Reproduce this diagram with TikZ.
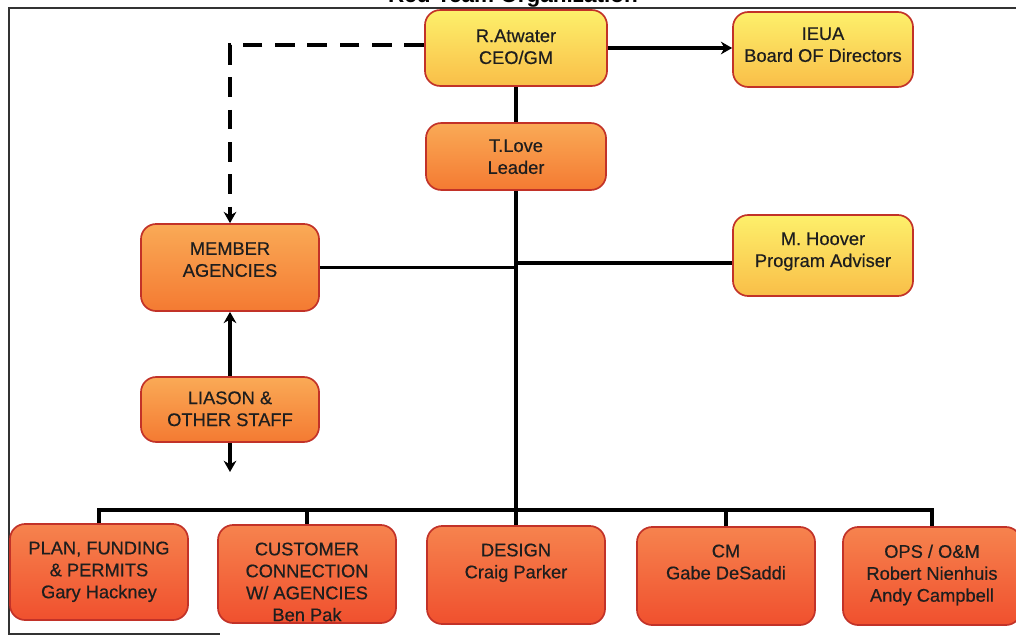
\documentclass[tikz,border=0pt]{standalone}
\usepackage{fontspec}
\setmainfont{Liberation Sans}
\newfontfamily\boxfam{Liberation Sans}[FakeBold=0.5]
\usepackage{xcolor}
\usetikzlibrary{arrows.meta,positioning}

\definecolor{boxred}{HTML}{C23228}
\definecolor{chiefT}{HTML}{FDF06B}
\definecolor{chiefB}{HTML}{F9BE48}
\definecolor{staffT}{HTML}{FAAA56}
\definecolor{staffB}{HTML}{F47A32}
\definecolor{unitT}{HTML}{F6834E}
\definecolor{unitB}{HTML}{F0502E}
\definecolor{inkgray}{HTML}{1E1E1E}

\newcommand{\boxfont}{\boxfam\fontsize{13}{15.6}\selectfont}
% box text: height, top gap, lines
\newcommand{\boxtext}[3]{\parbox[c][#1][t]{4.4cm}{\centering\vspace*{#2}#3}}

\begin{document}
\begin{tikzpicture}[x=0.025cm, y=-0.025cm,
    chief/.style={draw=boxred, line width=1.2pt, rounded corners=0.38cm,
        top color=chiefT, bottom color=chiefB, inner sep=0pt,
        text=inkgray, font=\boxfont, minimum width=4.5cm},
    staff/.style={chief, top color=staffT, bottom color=staffB},
    unit/.style={chief, top color=unitT, bottom color=unitB, minimum width=4.45cm},
    link/.style={line width=2.2pt},
    dashlink/.style={line width=3pt, dash pattern=on 14pt off 9pt},
    tip/.style={-{Stealth[length=8pt,width=9pt]}}]
    \useasboundingbox (0,0) rectangle (1016,638);

    % frame and title
    \draw[line width=1.2pt, black!80] (1016,8) -- (9,8) -- (9,634) -- (220,634);
    \node[font=\bfseries\fontsize{16}{19}\selectfont, anchor=base] (title) at (513,3) {Red Team Organization};

    % top level
    \node[chief, minimum width=4.55cm] (ceo) at (516,48) {\boxtext{54pt}{13.8pt}{R.Atwater\\CEO/GM}};
    \node[chief] (ieua) at (823,49.5) {\boxtext{53.3pt}{10.9pt}{IEUA\\Board OF Directors}};
    \node[staff] (tlove) at (516,156.5) {\boxtext{47.6pt}{11.6pt}{T.Love\\Leader}};
    \node[chief] (hoover) at (823,255.5) {\boxtext{57.6pt}{12.4pt}{M. Hoover\\Program Adviser}};

    % agencies side
    \node[staff, minimum width=4.45cm] (member) at (230,267.5) {\boxtext{61.9pt}{13pt}{MEMBER\\AGENCIES}};
    \node[staff, minimum width=4.45cm] (liason) at (230,409.5) {\boxtext{46.2pt}{10.2pt}{LIASON \&\\OTHER STAFF}};

    % bottom row
    \node[unit] (plan) at (99,572) {\boxtext{2.4cm}{12.5pt}{PLAN, FUNDING\\\& PERMITS\\Gary Hackney}};
    \node[unit] (customer) at (307,574) {\boxtext{2.45cm}{12.5pt}{CUSTOMER\\CONNECTION\\W/ AGENCIES\\Ben Pak}};
    \node[unit] (design) at (516,575) {\boxtext{2.45cm}{12.5pt}{DESIGN\\Craig Parker}};
    \node[unit] (cm) at (726,576) {\boxtext{2.45cm}{12.5pt}{CM\\Gabe DeSaddi}};
    \node[unit] (ops) at (932,576) {\boxtext{2.45cm}{12.5pt}{OPS / O\&M\\Robert Nienhuis\\Andy Campbell}};

    % connectors
    \coordinate (bus) at (516,510);
    \coordinate (advise) at (516,263);
    \coordinate (liasonend) at (230,472);
    \draw[link] (ceo) -- (tlove);
    \draw[link, tip] (ceo.east) -- (ceo.east -| ieua.west);
    \draw[dashlink, tip] ([yshift=2pt]ceo.west) -| (member.north);
    \draw[link] (tlove) -- (bus);
    \draw[link] (member.east) -- (member.east -| bus);
    \draw[link] (advise) -- (advise -| hoover.west);
    \draw[link, tip] (liason) -- (member);
    \draw[link, tip] (liason) -- (liasonend);
    \draw[link] (plan.north) |- (bus) -| (ops.north);
    \foreach \u in {customer,design,cm}
        \draw[link] (\u.north) -- (\u.north |- bus);
\end{tikzpicture}
\end{document}
